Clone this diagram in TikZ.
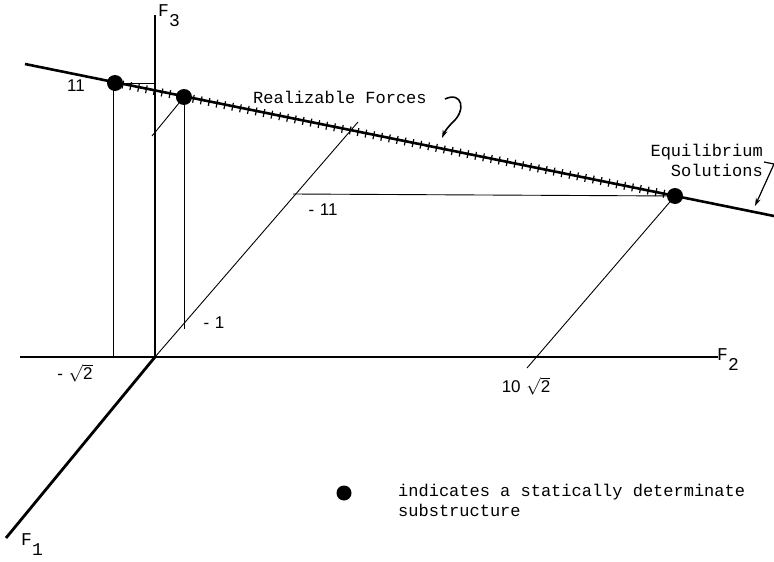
\documentclass[tikz,border=0pt]{standalone}
\usepackage{fontspec}
\newfontfamily\monofnt{Liberation Mono}
\newfontfamily\sansfnt{Liberation Sans}
\usetikzlibrary{decorations.pathreplacing,arrows.meta}
\begin{document}
\begin{tikzpicture}[x=1pt,y=-1pt,
  axis/.style={line width=2.8pt},
  thinline/.style={line width=0.9pt},
  mainline/.style={line width=2.6pt},
  hatch/.style={line width=1.2pt, decorate, decoration={ticks, segment length=8pt, amplitude=4pt}},
  dot/.style={circle, fill=black, inner sep=0pt, minimum size=16pt},
  numlbl/.style={font=\sansfnt\fontsize{17}{20}\selectfont, inner sep=0pt},
  txtlbl/.style={font=\monofnt\fontsize{17}{20}\selectfont, inner sep=0pt},
  axlbl/.style={font=\monofnt\fontsize{18}{20}\selectfont, inner sep=0pt, anchor=north west}]
\useasboundingbox (0,0) rectangle (774,562);
% key coordinates
\coordinate (O) at (155,357);
\coordinate (F3end) at (155,15);
\coordinate (F2start) at (20,357);
\coordinate (F2end) at (718,357);
\coordinate (F1end) at (6,538);
\coordinate (L0) at (25,64);
\coordinate (P1c) at (115,83);
\coordinate (P2c) at (184,97);
\coordinate (P3c) at (675,196);
\coordinate (L1) at (774,216);
\coordinate (H1) at (155,83);
\coordinate (V1) at (113,357);
\coordinate (M1) at (184,329);
\coordinate (D2) at (152,136);
\coordinate (Dtop) at (358,122);
\coordinate (H3) at (293,194);
\coordinate (D3) at (527,368);
% axes
\draw[axis] (O) -- (F3end);
\draw[line width=1.4pt] (F2start) -- (O);
\draw[line width=2.4pt] (O) -- (F2end);
\draw[axis] (O) -- (F1end);
% thin construction lines
\draw[thinline] (P1c) -- (H1);
\draw[thinline] (113,83) -- (V1);
\draw[thinline] (P2c) -- (M1);
\draw[thinline] (P2c) -- (D2);
\draw[thinline] (O) -- (Dtop);
\draw[thinline] (H3) -- (P3c);
\draw[thinline] (P3c) -- (D3);
% main line with hatching
\draw[mainline] (L0) -- (L1);
\draw[hatch] (P1c) -- (P3c);
% dots
\node[dot] (P1) at (P1c) {};
\node[dot] (P2) at (P2c) {};
\node[dot] (P3) at (P3c) {};
% axis labels
\node[axlbl] (F3) at (158,4) {F\raisebox{-10pt}{3}};
\node[axlbl] (F2) at (717,348) {F\raisebox{-10pt}{2}};
\node[axlbl] (F1) at (21,533) {F\raisebox{-10pt}{1}};
% numbers
\node[numlbl] (n11) at (76,86) {11};
\node[numlbl] (nm11) at (323,210) {-\,\,11};
\node[numlbl] (nm1) at (214,323) {-\,\,1};
\node[numlbl] (nmr2) at (75,373) {-\,\,$\sqrt{\mbox{\sansfnt\fontsize{17}{20}\selectfont 2}}$};
\node[numlbl] (n10r2) at (526,386) {10\,\,$\sqrt{\mbox{\sansfnt\fontsize{17}{20}\selectfont 2}}$};
% text labels
\node[txtlbl, anchor=west] (real) at (253,97) {Realizable Forces};
\node[txtlbl, anchor=east, align=right] (equi) at (763,160) {Equilibrium\\Solutions};
% curved arrows
\coordinate (RA) at (445,99);
\coordinate (RB) at (442,138);
\draw[line width=1.6pt, -{Stealth[length=8pt,width=5pt]}] (RA) .. controls (462,91) and (467,110) .. (452,123) .. controls (448,127) and (445,131) .. (RB);
\coordinate (EA) at (764,162);
\coordinate (EB) at (755,206);
\draw[line width=1.2pt, -{Stealth[length=8pt,width=5pt]}] (EA) -- (774,164) -- (EB);
% legend
\node[dot, minimum size=15pt] (leg) at (344,493) {};
\node[txtlbl, anchor=north west, align=left] (legtxt) at (398,484) {indicates a statically determinate\\substructure};
\end{tikzpicture}
\end{document}
